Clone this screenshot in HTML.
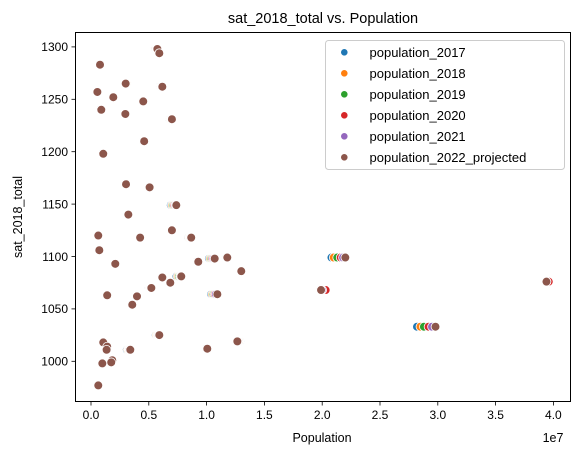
<!DOCTYPE html>
<html><head><meta charset="utf-8"><style>
body{margin:0;background:#fff;}
svg{display:block;font-family:"Liberation Sans","DejaVu Sans",sans-serif;}
</style></head><body>
<svg id="chart" width="580" height="455" viewBox="0 0 580 455">
<rect width="580" height="455" fill="#fff"/>
<text x="323" y="23" text-anchor="middle" font-size="14.5" fill="#000">sat_2018_total vs. Population</text>
<g id="grid"></g>
<g id="points"></g>
<rect x="75.5" y="32.5" width="495" height="369" fill="none" stroke="#000" stroke-width="1"/>
<g id="xticks"></g><g id="yticks"></g>
<text x="322" y="442" text-anchor="middle" font-size="12.5">Population</text>
<text x="553" y="442" text-anchor="middle" font-size="12.5">1e7</text>
<text transform="translate(22,217) rotate(-90)" text-anchor="middle" font-size="12.5">sat_2018_total</text>
<g id="legend">
<rect x="325.5" y="40.5" width="239" height="129" rx="3" fill="#fff" fill-opacity="0.8" stroke="#ccc" stroke-width="1"/>
</g>
</svg>
<script>
const sat = [1283,1298,1294,1265,1262,1257,1252,1248,1240,1236,1231,1210,1198,1169,1166,1149,1140,1125,1120,1106,1118,1118,1093,1098,1099,1095,1086,1080,1081,1075,1070,1063,1062,1064,1054,1025,1018,1014,1019,1011,1012,1001,999,998,977,1011,1099,1068,1033,1076];
const pop2017 = [0.074,0.555,0.585,0.31,0.60,0.052,0.190,0.445,0.086,0.295,0.68,0.455,0.104,0.300,0.500,0.690,0.31,0.69,0.062,0.071,0.42,0.84,0.207,1.02,1.17,0.92,1.29,0.61,0.74,0.68,0.50,0.138,0.395,1.04,0.355,0.56,0.105,0.135,1.29,0.31,1.00,0.183,0.174,0.097,0.062,0.135,2.08,2.00,2.82,3.95];
const pop2018 = [0.075,0.56,0.587,0.31,0.605,0.053,0.191,0.447,0.087,0.296,0.685,0.456,0.105,0.301,0.502,0.70,0.313,0.692,0.062,0.071,0.421,0.846,0.208,1.03,1.172,0.922,1.292,0.612,0.75,0.682,0.505,0.139,0.396,1.05,0.356,0.567,0.105,0.137,1.285,0.318,1.002,0.183,0.174,0.097,0.062,0.135,2.10,2.01,2.85,3.95];
const pop2019 = [0.076,0.565,0.588,0.305,0.608,0.054,0.192,0.448,0.088,0.296,0.69,0.457,0.105,0.302,0.503,0.71,0.316,0.695,0.063,0.072,0.422,0.852,0.209,1.04,1.174,0.924,1.294,0.614,0.76,0.684,0.51,0.139,0.397,1.06,0.356,0.574,0.106,0.138,1.28,0.325,1.003,0.184,0.175,0.098,0.063,0.135,2.13,2.02,2.88,3.96];
const pop2020 = [0.077,0.568,0.589,0.303,0.611,0.054,0.192,0.45,0.088,0.297,0.693,0.458,0.106,0.302,0.505,0.72,0.318,0.697,0.063,0.072,0.423,0.857,0.209,1.05,1.176,0.926,1.296,0.615,0.77,0.685,0.515,0.14,0.397,1.07,0.357,0.58,0.106,0.139,1.275,0.33,1.004,0.184,0.175,0.098,0.063,0.135,2.16,2.03,2.92,3.96];
const pop2021 = [0.078,0.571,0.59,0.301,0.614,0.055,0.193,0.451,0.089,0.297,0.697,0.459,0.106,0.303,0.506,0.73,0.321,0.699,0.063,0.072,0.424,0.862,0.21,1.06,1.178,0.927,1.298,0.616,0.776,0.686,0.518,0.14,0.398,1.08,0.357,0.586,0.106,0.14,1.27,0.335,1.005,0.184,0.175,0.098,0.063,0.135,2.18,2.00,2.95,3.94];
const pop2022 = [0.078,0.574,0.591,0.30,0.617,0.055,0.193,0.452,0.089,0.297,0.70,0.46,0.106,0.303,0.507,0.738,0.323,0.70,0.063,0.072,0.425,0.867,0.21,1.07,1.179,0.928,1.30,0.617,0.781,0.686,0.522,0.14,0.398,1.093,0.357,0.591,0.106,0.14,1.266,0.34,1.006,0.184,0.175,0.098,0.063,0.135,2.20,1.99,2.98,3.94];
const seriesNames = ["population_2017","population_2018","population_2019","population_2020","population_2021","population_2022_projected"];
const seriesColors = ["#1f77b4","#ff7f0e","#2ca02c","#d62728","#9467bd","#8c564b"];
const xTicks = [0,0.5,1,1.5,2,2.5,3,3.5,4];
const xTickLabels = ["0.0","0.5","1.0","1.5","2.0","2.5","3.0","3.5","4.0"];
const yTicks = [1000,1050,1100,1150,1200,1250,1300];

const NS="http://www.w3.org/2000/svg";
function xs(v){return 91+v*115.6;}
function ys(v){return 361.3-(v-1000)*1.048;}
function mk(tag,attrs,parent){const e=document.createElementNS(NS,tag);for(const k in attrs)e.setAttribute(k,attrs[k]);parent.appendChild(e);return e;}
const series=[pop2017,pop2018,pop2019,pop2020,pop2021,pop2022];
const pg=document.getElementById('points');
series.forEach((arr,si)=>{
  const g=mk('g',{},pg);
  
  
  arr.forEach((p,i)=>{
    const c=mk('circle',{cx:xs(p),cy:ys(sat[i]),r:4.4,fill:seriesColors[si],stroke:'#fff','stroke-width':0.8},g);
    
    
  });
});
const xg=document.getElementById('xticks');
xTicks.forEach((t,i)=>{
  const l=mk('line',{x1:xs(t),x2:xs(t),y1:402,y2:405.5,stroke:'#000','stroke-width':0.8},xg);
  
  
  const tx=mk('text',{x:xs(t),y:419,'text-anchor':'middle','font-size':12},xg);
  tx.textContent=xTickLabels[i];
  
  
});
const yg=document.getElementById('yticks');
yTicks.forEach(t=>{
  const l=mk('line',{x1:71.5,x2:75.5,y1:ys(t),y2:ys(t),stroke:'#000','stroke-width':0.8},yg);
  
  
  const tx=mk('text',{x:68,y:ys(t)+4.3,'text-anchor':'end','font-size':12},yg);
  tx.textContent=String(t);
  
  
});
const lg=document.getElementById('legend');
seriesNames.forEach((n,i)=>{
  const y=52.3+i*21;
  const g=mk('g',{},lg);
  
  
  mk('circle',{cx:344.3,cy:y,r:3.6,fill:seriesColors[i],stroke:'#fff','stroke-width':0.6},g);
  const tx=mk('text',{x:369.5,y:y+4.5,'font-size':13},g);
  tx.textContent=n;
});
</script>
</body></html>
